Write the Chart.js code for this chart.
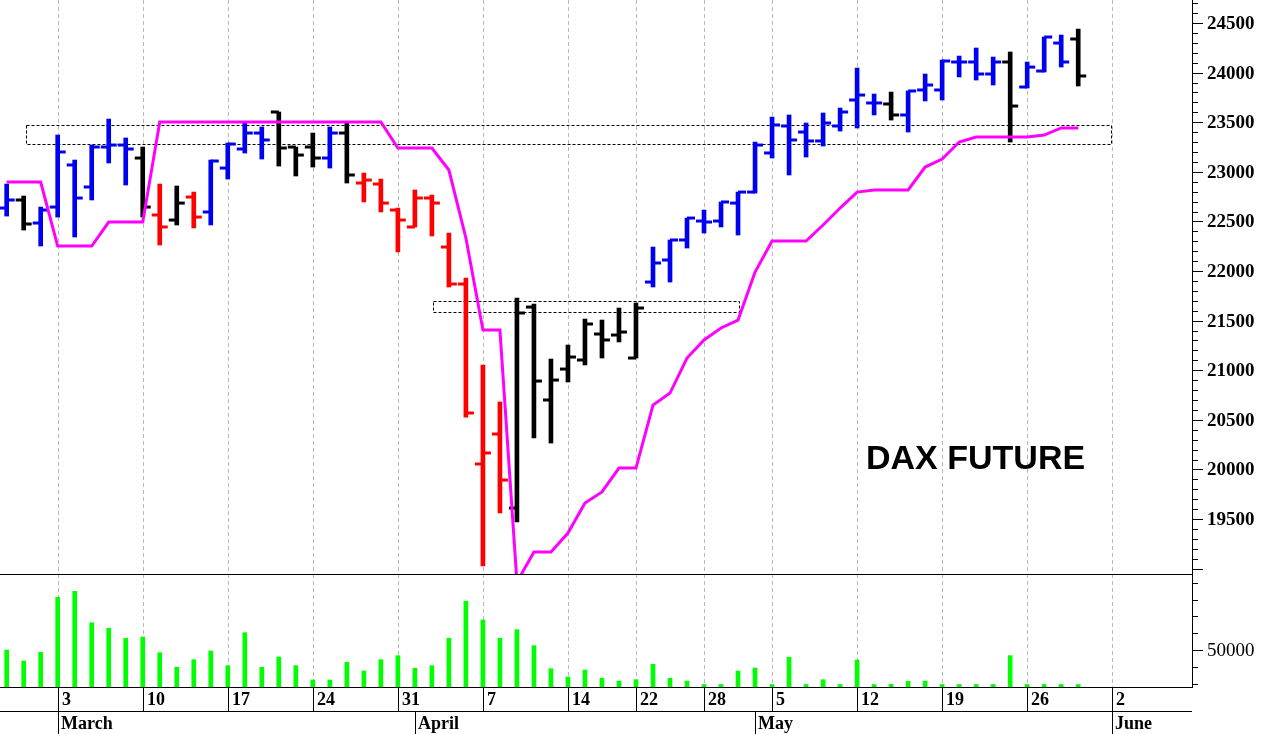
<!DOCTYPE html>
<html>
<head>
<meta charset="utf-8">
<script src="https://cdn.jsdelivr.net/npm/chart.js@4.4.0/dist/chart.umd.min.js"></script>
<style>
  html, body { margin: 0; padding: 0; background: #fff; }
  #wrap { width: 1262px; height: 734px; }
</style>
</head>
<body>
<div id="wrap"><canvas id="daxChart" width="1262" height="734"></canvas></div>
<script>
// trading days shown on the axis (2025)
const tradingDays = [
  '2025-02-26', '2025-02-27', '2025-02-28',
  '2025-03-03', '2025-03-04', '2025-03-05', '2025-03-06', '2025-03-07',
  '2025-03-10', '2025-03-11', '2025-03-12', '2025-03-13', '2025-03-14',
  '2025-03-17', '2025-03-18', '2025-03-19', '2025-03-20', '2025-03-21',
  '2025-03-24', '2025-03-25', '2025-03-26', '2025-03-27', '2025-03-28',
  '2025-03-31', '2025-04-01', '2025-04-02', '2025-04-03', '2025-04-04',
  '2025-04-07', '2025-04-08', '2025-04-09', '2025-04-10', '2025-04-11',
  '2025-04-14', '2025-04-15', '2025-04-16', '2025-04-17',
  '2025-04-22', '2025-04-23', '2025-04-24', '2025-04-25',
  '2025-04-28', '2025-04-29', '2025-04-30', '2025-05-02',
  '2025-05-05', '2025-05-06', '2025-05-07', '2025-05-08', '2025-05-09',
  '2025-05-12', '2025-05-13', '2025-05-14', '2025-05-15', '2025-05-16',
  '2025-05-19', '2025-05-20', '2025-05-21', '2025-05-22', '2025-05-23',
  '2025-05-26', '2025-05-27', '2025-05-28', '2025-05-29', '2025-05-30',
  '2025-06-02', '2025-06-03', '2025-06-04', '2025-06-05', '2025-06-06'
];
const monthNames = ['January', 'February', 'March', 'April', 'May', 'June',
  'July', 'August', 'September', 'October', 'November', 'December'];

// DAX future daily bars
const open = [22635, 22716, 22484, 22645, 23069, 22847, 23250, 23270, 23139, 22565,
  22514, 22746, 22595, 23038, 23230, 23391, 23603, 23250, 23250, 23139,
  23391, 22887, 22877, 22615, 22444, 22736, 22242, 21869, 20055, 20357,
  19611, 21637, 20700, 21012, 21103, 21365, 21355, 21123, 21889, 22111,
  22313, 22504, 22504, 22685, 22796, 23190, 23462, 23401, 23311, 23462,
  23724, 23694, 23684, 23573, 23825, 23825, 24107, 24107, 23986, 24107,
  23855, 24016, 24298, 24339];
const high = [22877, 22756, 22645, 23371, 23119, 23270, 23532, 23341, 23250, 22877,
  22857, 22796, 23119, 23290, 23492, 23452, 23603, 23250, 23391, 23452,
  23492, 22988, 22927, 22635, 22817, 22766, 22383, 21929, 21053, 20680,
  21728, 21667, 21113, 21254, 21516, 21506, 21627, 21678, 22242, 22313,
  22534, 22615, 22696, 22796, 23300, 23552, 23573, 23492, 23593, 23643,
  24046, 23784, 23804, 23815, 23986, 24127, 24167, 24248, 24157, 24208,
  24107, 24359, 24379, 24439];
const low = [22554, 22413, 22252, 22544, 22343, 22716, 23089, 22867, 22544, 22262,
  22464, 22434, 22464, 22927, 23189, 23129, 23058, 22958, 23048, 23038,
  22887, 22696, 22595, 22192, 22444, 22353, 21839, 20528, 19027, 19561,
  19470, 20317, 20266, 20881, 21053, 21123, 21285, 21123, 21839, 21889,
  22232, 22383, 22444, 22363, 22786, 23139, 22968, 23149, 23260, 23411,
  23442, 23573, 23522, 23401, 23714, 23724, 23956, 23925, 23875, 23300,
  23845, 24006, 24056, 23865];
const close = [22716, 22474, 22615, 23200, 22736, 23250, 23270, 23230, 22645, 22444,
  22685, 22544, 23109, 23280, 23391, 23321, 23240, 23169, 23139, 23391,
  22968, 22917, 22685, 22514, 22736, 22685, 21869, 20569, 20166, 19893,
  21577, 20891, 20901, 21133, 21466, 21305, 21385, 21627, 22081, 22313,
  22534, 22494, 22696, 22796, 23270, 23472, 23321, 23311, 23492, 23603,
  23774, 23694, 23573, 23815, 23875, 24117, 24107, 23986, 24107, 23663,
  24056, 24359, 24107, 23966];
// bar state: b = up trend, r = down trend, k = neutral
const signal = 'bkbbbbbbkrkrbbbbkkkbkrrrrrrrrrkkkkkkkkbbbbbbbbbbbbbbkbbbbbbkbbbk'.split('');

// trailing stop line
const stopLine = [22897, 22897, 22897, 22252, 22252, 22252, 22494, 22494, 22494, 23502,
  23502, 23502, 23502, 23502, 23502, 23502, 23502, 23502, 23502, 23502,
  23502, 23502, 23502, 23240, 23240, 23240, 23018, 22333, 21406, 21406,
  18865, 19168, 19168, 19359, 19662, 19773, 20014, 20014, 20649, 20770,
  21123, 21305, 21426, 21506, 21990, 22303, 22303, 22303, 22464, 22635,
  22796, 22817, 22817, 22817, 23048, 23129, 23300, 23351, 23351, 23351,
  23351, 23371, 23442, 23442];

const volume = [50000, 37000, 47300, 112800, 119900, 82500, 75900, 64000, 65500, 46800,
  29400, 38500, 48900, 31400, 70600, 29400, 41700, 31400, 14300, 14300,
  35400, 25000, 38500, 43300, 28300, 31400, 64000, 108100, 85800, 64000,
  74200, 55200, 27800, 17900, 26200, 16400, 13100, 14700, 33000, 16400,
  13100, 9000, 9000, 25000, 28600, 9000, 41400, 9000, 14700, 9000,
  38100, 9000, 9200, 12800, 13100, 9000, 9000, 9000, 9000, 43300,
  9000, 9000, 9000, 9000];

// resistance zones (bar index range, price range)
const zoneFrom = [1.14, 25.08];
const zoneTo = [64.92, 43.05];
const zoneLow = [23280, 21582];
const zoneHigh = [23467, 21693];

const priceTicks = { from: 19000, to: 24700, minor: 100, major: 500 };
const volumeTicks = [10000, 30000, 50000, 70000, 90000, 110000, 130000];
const volumeLabel = 50000;

// layout
const VOL_PANEL = 113;
const AXIS_W = 70;
const DATE_ROWS = 47;
const colors = { b: '#0000f0', r: '#ff0000', k: '#000000' };
const barColors = signal.map(s => colors[s]);
const tickShift = 0.235;

const idx = open.map((_, i) => i);
const dayOf = s => new Date(s + 'T00:00:00Z');
const weekStarts = [];
const monthStarts = [];
tradingDays.forEach((d, i) => {
    if (i === 0) return;
    const cur = dayOf(d), prev = dayOf(tradingDays[i - 1]);
    if (cur.getUTCDay() < prev.getUTCDay()) weekStarts.push(i);
    if (cur.getUTCMonth() !== prev.getUTCMonth()) monthStarts.push(i);
});

const priceClip = { left: 0, top: 0, right: 0, bottom: -VOL_PANEL };

const chartDecor = {
    id: 'chartDecor',
    beforeDatasetsDraw(chart) {
        const { ctx, chartArea: a, scales: { x, y } } = chart;
        ctx.save();
        // weekly grid
        ctx.strokeStyle = '#b8b8b8';
        ctx.lineWidth = 1;
        ctx.setLineDash([4, 3]);
        weekStarts.forEach(i => {
            const px = Math.round(x.getPixelForValue(i)) + 0.5;
            ctx.beginPath();
            ctx.moveTo(px, a.top);
            ctx.lineTo(px, a.bottom);
            ctx.stroke();
        });
        // zones
        ctx.strokeStyle = '#000';
        ctx.setLineDash([3, 2]);
        zoneFrom.forEach((f, k) => {
            const x0 = Math.round(x.getPixelForValue(f)) + 0.5;
            const x1 = Math.round(x.getPixelForValue(zoneTo[k])) + 0.5;
            const y0 = Math.round(y.getPixelForValue(zoneHigh[k])) + 0.5;
            const y1 = Math.round(y.getPixelForValue(zoneLow[k])) + 0.5;
            ctx.strokeRect(x0, y0, x1 - x0, y1 - y0);
        });
        ctx.restore();
    },
    afterDraw(chart) {
        const { ctx, chartArea: a, scales: { x, y, yv } } = chart;
        const sepY = a.bottom - VOL_PANEL;
        const rowY = a.bottom + 24;
        const H = chart.height;
        ctx.save();
        ctx.strokeStyle = '#000';
        ctx.fillStyle = '#000';
        ctx.lineWidth = 1;
        const hline = (x0, x1, yy) => { ctx.beginPath(); ctx.moveTo(x0, yy + 0.5); ctx.lineTo(x1, yy + 0.5); ctx.stroke(); };
        const vline = (xx, y0, y1) => { ctx.beginPath(); ctx.moveTo(xx + 0.5, y0); ctx.lineTo(xx + 0.5, y1); ctx.stroke(); };
        hline(a.left, a.right, Math.round(sepY));
        hline(a.left, a.right, Math.round(a.bottom));
        hline(a.left, a.right, Math.round(rowY));
        vline(Math.round(a.right), a.top, a.bottom + 1);

        // price axis
        ctx.textBaseline = 'middle';
        ctx.textAlign = 'left';
        for (let v = priceTicks.from; v <= priceTicks.to; v += priceTicks.minor) {
            const py = Math.round(y.getPixelForValue(v));
            if (py < a.top || py > sepY - 3) continue;
            const major = v % priceTicks.major === 0;
            hline(a.right, a.right + (major ? 11 : 6), py);
            if (major && py < sepY - 20) {
                ctx.font = 'bold 19px "Liberation Serif"';
                ctx.fillText(String(v), a.right + 15, py + 1);
            }
        }
        // volume axis
        volumeTicks.forEach(v => {
            const py = Math.round(yv.getPixelForValue(v));
            hline(a.right, a.right + 6, py);
            if (v === volumeLabel) {
                hline(a.right, a.right + 11, py);
                ctx.font = '19px "Liberation Serif"';
                ctx.fillText(String(v), a.right + 15, py + 1);
            }
        });

        // date rows
        ctx.font = 'bold 18px "Liberation Serif"';
        weekStarts.forEach(i => {
            const px = Math.round(x.getPixelForValue(i));
            vline(px, a.bottom, rowY);
            ctx.fillText(String(dayOf(tradingDays[i]).getUTCDate()), px + 4, a.bottom + 13);
        });
        monthStarts.forEach(i => {
            const px = Math.round(x.getPixelForValue(i));
            vline(px, rowY, H);
            ctx.fillText(monthNames[dayOf(tradingDays[i]).getUTCMonth()], px + 3, rowY + 13);
        });

        // title
        ctx.font = 'bold 34px "Liberation Sans"';
        ctx.fillText('DAX FUTURE', 866, 460);
        ctx.restore();
    }
};

new Chart(document.getElementById('daxChart'), {
    type: 'bar',
    data: {
        datasets: [
            {
                type: 'line',
                label: 'Stop',
                data: idx.map(i => ({ x: i, y: stopLine[i] })),
                borderColor: '#ff00ff',
                borderWidth: 3,
                pointRadius: 0,
                tension: 0,
                clip: priceClip,
                order: 0
            },
            {
                type: 'bar',
                label: 'High-Low',
                data: idx.map(i => ({ x: i, y: [low[i], high[i]] })),
                backgroundColor: barColors,
                barThickness: 4,
                grouped: false,
                borderWidth: 0,
                clip: priceClip,
                order: 1
            },
            {
                type: 'line',
                label: 'Open',
                data: idx.map(i => ({ x: i - tickShift, y: open[i] })),
                showLine: false,
                pointStyle: 'line',
                pointRadius: 4,
                pointBorderWidth: 3,
                pointBorderColor: barColors,
                clip: priceClip,
                order: 1
            },
            {
                type: 'line',
                label: 'Close',
                data: idx.map(i => ({ x: i + tickShift, y: close[i] })),
                showLine: false,
                pointStyle: 'line',
                pointRadius: 4,
                pointBorderWidth: 3,
                pointBorderColor: barColors,
                clip: priceClip,
                order: 1
            },
            {
                type: 'bar',
                label: 'Volume',
                yAxisID: 'yv',
                data: idx.map(i => ({ x: i, y: volume[i] })),
                backgroundColor: '#00ff00',
                barThickness: 4,
                grouped: false,
                borderWidth: 0,
                clip: 0,
                order: 2
            }
        ]
    },
    options: {
        responsive: false,
        animation: false,
        events: [],
        layout: { autoPadding: false, padding: { left: 0, top: 0, right: AXIS_W, bottom: DATE_ROWS } },
        plugins: { legend: { display: false }, tooltip: { enabled: false } },
        scales: {
            x: { type: 'linear', offset: false, min: -0.392, max: 69.69, display: false },
            y: { type: 'linear', min: 17807, max: 24732, display: false },
            yv: { type: 'linear', min: 6000, max: 823857, display: false }
        }
    },
    plugins: [chartDecor]
});
</script>
</body>
</html>
